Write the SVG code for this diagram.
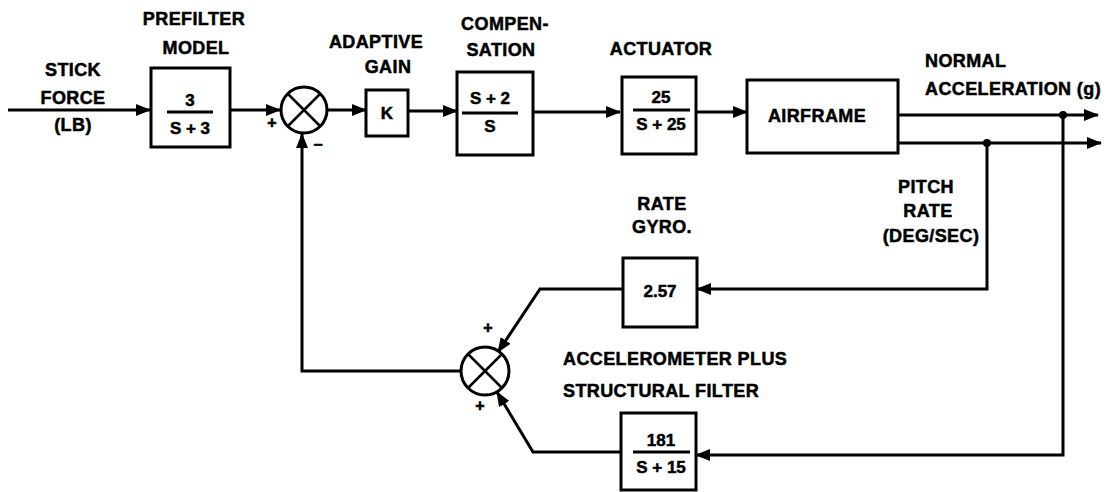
<svg xmlns="http://www.w3.org/2000/svg" width="1119" height="492" viewBox="0 0 1119 492">
<style>
.lbl{font-family:"Liberation Sans",Arial,sans-serif;font-weight:bold;font-size:18px;letter-spacing:0.4px;fill:#000;stroke:#000;stroke-width:0.5}
.mid{text-anchor:middle}
.frac{font-family:"Liberation Sans",Arial,sans-serif;font-weight:bold;font-size:17px;text-anchor:middle;fill:#000;stroke:#000;stroke-width:0.5}
.sgn{font-family:"Liberation Sans",Arial,sans-serif;font-weight:bold;font-size:16px;text-anchor:middle;fill:#000;stroke:#000;stroke-width:0.6}
.box{fill:#fff;stroke:#000;stroke-width:3}
.ln{fill:none;stroke:#000;stroke-width:3}
.thin{fill:none;stroke:#000;stroke-width:2.5}
.line{fill:none;stroke:#000;stroke-width:3;stroke-linejoin:miter}
</style>
<defs>
<marker id="arr" markerUnits="userSpaceOnUse" markerWidth="16" markerHeight="12" refX="14" refY="6" orient="auto">
<path d="M0,0 L15,6 L0,12 Z" fill="#000"/>
</marker>
</defs>
<rect width="1119" height="492" fill="#fff"/>

<g id="connectors">
<path class="line" d="M8,110 H150" marker-end="url(#arr)"/>
<path class="line" d="M230,110 H280" marker-end="url(#arr)"/>
<path class="line" d="M327,110 H366" marker-end="url(#arr)"/>
<path class="line" d="M408,111 H457" marker-end="url(#arr)"/>
<path class="line" d="M533,112 H620" marker-end="url(#arr)"/>
<path class="line" d="M696,112 H747" marker-end="url(#arr)"/>
<path class="line" d="M898,115 H1098" marker-end="url(#arr)"/>
<path class="line" d="M898,143 H1101" marker-end="url(#arr)"/>
<path class="line" d="M987,143 V289 H697" marker-end="url(#arr)"/>
<path class="line" d="M1063,115 V455 H696" marker-end="url(#arr)"/>
<path class="line" d="M623,289 H540 L498,352" marker-end="url(#arr)"/>
<path class="line" d="M621,452 H533 L497,392" marker-end="url(#arr)"/>
<path class="line" d="M461,371 H302 V134" marker-end="url(#arr)"/>
<circle cx="987" cy="143" r="4" fill="#000"/>
<circle cx="1063" cy="115" r="4" fill="#000"/>
</g>

<g id="stick-force">
<text class="lbl mid" x="73" y="76">STICK</text>
<text class="lbl mid" x="73" y="104">FORCE</text>
<text class="lbl mid" x="73" y="131">(LB)</text>
</g>

<g id="prefilter">
<text class="lbl mid" x="194" y="25">PREFILTER</text>
<text class="lbl mid" x="196" y="54">MODEL</text>
<rect class="box" x="151" y="68" width="79" height="79"/>
<text class="frac" x="190" y="106">3</text>
<line class="ln" x1="167" y1="112" x2="213" y2="112"/>
<text class="frac" x="190" y="134">S + 3</text>
</g>

<g id="sum1">
<circle class="box" cx="304" cy="110" r="23"/>
<line class="thin" x1="288" y1="94" x2="320" y2="126"/>
<line class="thin" x1="320" y1="94" x2="288" y2="126"/>
<text class="sgn" x="272" y="128">+</text>
<text class="sgn" x="318" y="150">−</text>
</g>

<g id="adaptive-gain">
<text class="lbl mid" x="376" y="48">ADAPTIVE</text>
<text class="lbl mid" x="388" y="73">GAIN</text>
<rect class="box" x="366" y="90" width="42" height="46"/>
<text class="frac" x="387" y="119">K</text>
</g>

<g id="compensation">
<text class="lbl mid" x="505" y="30">COMPEN-</text>
<text class="lbl mid" x="501" y="56">SATION</text>
<rect class="box" x="457" y="72" width="76" height="83"/>
<text class="frac" x="490" y="104">S + 2</text>
<line class="ln" x1="462" y1="113" x2="518" y2="113"/>
<text class="frac" x="490" y="132">S</text>
</g>

<g id="actuator">
<text class="lbl mid" x="661" y="55">ACTUATOR</text>
<rect class="box" x="622" y="77" width="74" height="77"/>
<text class="frac" x="661" y="103">25</text>
<line class="ln" x1="633" y1="110" x2="690" y2="110"/>
<text class="frac" x="661" y="130">S + 25</text>
</g>

<g id="airframe">
<rect class="box" x="747" y="80" width="151" height="73"/>
<text class="lbl mid" x="817" y="122">AIRFRAME</text>
</g>

<g id="normal-acceleration">
<text class="lbl" x="925" y="67">NORMAL</text>
<text class="lbl" x="925" y="95">ACCELERATION (g)</text>
</g>

<g id="pitch-rate">
<text class="lbl mid" x="926" y="193">PITCH</text>
<text class="lbl mid" x="928" y="217">RATE</text>
<text class="lbl mid" x="931" y="242">(DEG/SEC)</text>
</g>

<g id="rate-gyro">
<text class="lbl mid" x="662" y="210">RATE</text>
<text class="lbl mid" x="662" y="233">GYRO.</text>
<rect class="box" x="623" y="258" width="74" height="69"/>
<text class="frac" x="660" y="297">2.57</text>
</g>

<g id="sum2">
<circle class="box" cx="485" cy="371" r="24"/>
<line class="thin" x1="468" y1="354" x2="502" y2="388"/>
<line class="thin" x1="502" y1="354" x2="468" y2="388"/>
<text class="sgn" x="488" y="333">+</text>
<text class="sgn" x="480" y="411">+</text>
</g>

<g id="accelerometer">
<text class="lbl" x="563" y="365">ACCELEROMETER PLUS</text>
<text class="lbl" x="563" y="397">STRUCTURAL FILTER</text>
<rect class="box" x="621" y="413" width="75" height="77"/>
<text class="frac" x="661" y="446">181</text>
<line class="ln" x1="633" y1="452" x2="690" y2="452"/>
<text class="frac" x="661" y="473">S + 15</text>
</g>
</svg>
